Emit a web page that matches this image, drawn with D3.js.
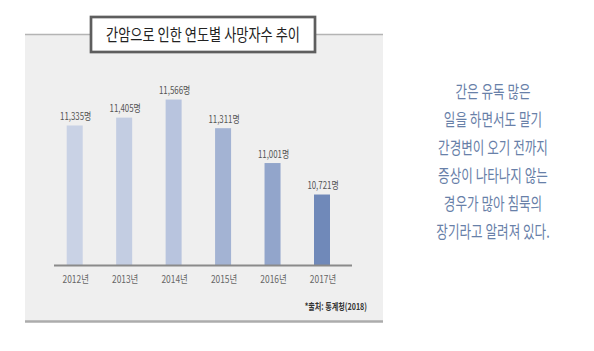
<!DOCTYPE html>
<html>
<head>
<meta charset="utf-8">
<script src="https://cdn.jsdelivr.net/npm/d3@7"></script>
<style>
  body { margin: 0; background: #fff; }
  text { font-family: "Noto Sans CJK KR", "Noto Sans", sans-serif; }
</style>
</head>
<body>
<div id="chart"></div>
<script>
var w = 594;
var h = 351;

// data
var years = ["2012년", "2013년", "2014년", "2015년", "2016년", "2017년"];
var deaths = [11335, 11405, 11566, 11311, 11001, 10721];
var barColors = ["#c9d2e5", "#c3cde2", "#b8c4de", "#a3b3d3", "#92a5cb", "#7089b9"];
var title = "간암으로 인한 연도별 사망자수 추이";
var source = "*출처: 통계청(2018)";
var sideText = ["간은 유독 많은", "일을 하면서도 말기", "간경변이 오기 전까지",
  "증상이 나타나지 않는", "경우가 많아 침묵의", "장기라고 알려져 있다."];

var baseY = 265;

var svg = d3.select("#chart").append("svg")
  .attr("width", w)
  .attr("height", h);

// gray panel
svg.append("rect")
  .attr("x", 25).attr("y", 35)
  .attr("width", 358).attr("height", 286)
  .attr("fill", "#efefef");

svg.append("line")
  .attr("x1", 25).attr("x2", 383)
  .attr("y1", 34.5).attr("y2", 34.5)
  .attr("stroke", "#b4b4b4").attr("stroke-width", 1.5);

svg.append("line")
  .attr("x1", 25).attr("x2", 383)
  .attr("y1", 321.5).attr("y2", 321.5)
  .attr("stroke", "#acacac").attr("stroke-width", 2.5);

// title box
svg.append("rect")
  .attr("x", 91).attr("y", 17)
  .attr("width", 224).attr("height", 35)
  .attr("fill", "#fff")
  .attr("stroke", "#5e5e5e").attr("stroke-width", 2.7);

svg.append("text")
  .attr("transform", "translate(203,41) scale(0.8,1)")
  .attr("text-anchor", "middle")
  .attr("font-size", 16.5)
  .attr("fill", "#222")
  .text(title);

// scales
var xScale = d3.scalePoint()
  .domain(years)
  .range([74.7, 322]);

var yScale = d3.scaleLinear()
  .domain([10094, 11600])
  .range([baseY, baseY - 169.3]);

var barW = 16;

svg.selectAll(".bar")
  .data(deaths)
  .enter()
  .append("rect")
  .attr("class", "bar")
  .attr("x", function(d, i) { return xScale(years[i]) - barW / 2; })
  .attr("y", function(d) { return yScale(d); })
  .attr("width", barW)
  .attr("height", function(d) { return baseY - yScale(d); })
  .attr("fill", function(d, i) { return barColors[i]; });

// value labels
svg.selectAll(".val")
  .data(deaths)
  .enter()
  .append("text")
  .attr("class", "val")
  .attr("transform", function(d, i) {
    return "translate(" + (xScale(years[i]) + 1) + "," + (yScale(d) - 5.5) + ") scale(0.75,1)";
  })
  .attr("text-anchor", "middle")
  .attr("font-size", 10.5)
  .attr("fill", "#555")
  .text(function(d) { return d3.format(",")(d) + "명"; });

// baseline
svg.append("line")
  .attr("x1", 54).attr("x2", 352)
  .attr("y1", baseY + 0.5).attr("y2", baseY + 0.5)
  .attr("stroke", "#8a8a8a").attr("stroke-width", 2);

// x axis labels
svg.selectAll(".xl")
  .data(years)
  .enter()
  .append("text")
  .attr("class", "xl")
  .attr("transform", function(d) {
    return "translate(" + (xScale(d) + 1) + ",283) scale(0.8,1)";
  })
  .attr("text-anchor", "middle")
  .attr("font-size", 10.5)
  .attr("fill", "#666")
  .text(function(d) { return d; });

// source
svg.append("text")
  .attr("transform", "translate(367,310) scale(0.75,1)")
  .attr("text-anchor", "end")
  .attr("font-size", 9.5)
  .attr("font-weight", "bold")
  .attr("fill", "#333")
  .text(source);

// side text
svg.selectAll(".side")
  .data(sideText)
  .enter()
  .append("text")
  .attr("class", "side")
  .attr("transform", function(d, i) {
    return "translate(493," + (98 + i * 28) + ") scale(0.72,1)";
  })
  .attr("text-anchor", "middle")
  .attr("font-size", 17.5)
  .attr("fill", "#6880a8")
  .text(function(d) { return d; });
</script>
</body>
</html>
